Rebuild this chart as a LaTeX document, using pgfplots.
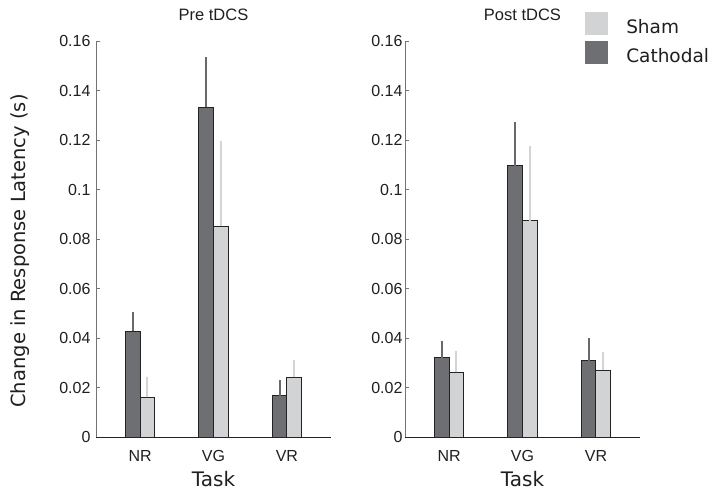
\documentclass[border=0pt]{standalone}
\usepackage{pgfplots}
\usepackage{pgfplotstable}
\pgfplotsset{compat=1.18}
\usepackage{fontspec}
\setmainfont{Liberation Sans}
\newfontfamily\dejavu{DejaVu Sans}

\definecolor{cath}{RGB}{110,111,115}
\definecolor{sham}{RGB}{210,211,213}
\definecolor{cathErr}{RGB}{105,105,108}
\definecolor{shamErr}{RGB}{212,212,214}
\definecolor{edge}{RGB}{35,35,35}
\definecolor{yax}{RGB}{115,115,115}

\pgfplotstableread{
x y e
0 0.0428 0.0077
1 0.1333 0.0202
2 0.0166 0.0064
}\precath
\pgfplotstableread{
x y e
0 0.0160 0.0082
1 0.0851 0.0345
2 0.0242 0.0068
}\presham
\pgfplotstableread{
x y e
0 0.0320 0.0068
1 0.1096 0.0178
2 0.0308 0.0093
}\postcath
\pgfplotstableread{
x y e
0 0.0261 0.0086
1 0.0874 0.0303
2 0.0269 0.0074
}\postsham

\pgfplotsset{
  panel/.style={
    scale only axis, width=235pt, height=396pt, anchor=south west,
    xmin=-0.6, xmax=2.6, ymin=0, ymax=0.16,
    axis x line*=bottom, axis y line*=left,
    x axis line style={edge, line width=1pt},
    y axis line style={yax, line width=1pt},
    xtick={0,1,2}, xticklabels={NR,VG,VR},
    xtick style={draw=none},
    ytick={0,0.02,0.04,0.06,0.08,0.1,0.12,0.14,0.16},
    ytick style={yax, line width=0.7pt},
    tick align=inside, major tick length=4pt,
    scaled y ticks=false,
    yticklabel style={/pgf/number format/fixed, /pgf/number format/precision=2,
      /pgf/number format/assume math mode=true,
      font=\fontsize{16}{18}\selectfont, text=black!88},
    xticklabel style={font=\fontsize{16}{18}\selectfont, text=black!88, anchor=center, yshift=-15pt},
    xlabel={Task},
    xlabel style={at={(axis description cs:0.5,0)}, anchor=center, yshift=-42pt,
      font=\dejavu\fontsize{20}{22}\selectfont, text=black!88},
    title style={at={(axis description cs:0.5,1)}, anchor=center, yshift=20pt,
      font=\fontsize{16.5}{18}\selectfont, text=black!88},
    ybar, bar width=0.2,
    error bars/y dir=plus, error bars/y explicit,
    error bars/error mark=none,
  },
  cathbar/.style={fill=cath, draw=edge, line width=1pt, bar shift=-0.1,
    error bars/error bar style={cathErr, line width=1.9pt}},
  shambar/.style={fill=sham, draw=edge, line width=1pt, bar shift=0.1,
    error bars/error bar style={shamErr, line width=1.9pt}},
  legimg/.style={legend image code/.code={\fill[##1] (0pt,-8pt) rectangle (23pt,15pt);}},
}

\begin{document}
\begin{tikzpicture}
\useasboundingbox (0,0) rectangle (712pt,491pt);

\begin{axis}[panel, at={(96pt,54pt)}, title={Pre tDCS},
  yticklabel style={xshift=-2pt}]
\addplot[cathbar] table[x=x, y=y, y error=e] {\precath};
\addplot[shambar] table[x=x, y=y, y error=e] {\presham};
\end{axis}

\begin{axis}[panel, at={(405pt,54pt)}, title={Post tDCS},
  yticklabel style={xshift=1pt},
  legend style={at={(axis description cs:0.767,1.073)}, anchor=north west,
    draw=none, fill=none, inner sep=0pt, outer sep=0pt, row sep=6pt,
    nodes={inner sep=0pt, font=\dejavu\fontsize{18.5}{20}\selectfont, text=black!88},
    /tikz/every odd column/.style={column sep=18pt}},
  legend cell align=left]
\addplot[cathbar, forget plot] table[x=x, y=y, y error=e] {\postcath};
\addplot[shambar, forget plot] table[x=x, y=y, y error=e] {\postsham};
\addlegendimage{legimg, fill=sham, draw=none}
\addlegendentry{Sham}
\addlegendimage{legimg, fill=cath, draw=none}
\addlegendentry{Cathodal}
\end{axis}

\node[rotate=90, font=\dejavu\fontsize{19.5}{22}\selectfont, text=black!88] at (20pt,240pt) {Change in Response Latency (s)};
\end{tikzpicture}
\end{document}
